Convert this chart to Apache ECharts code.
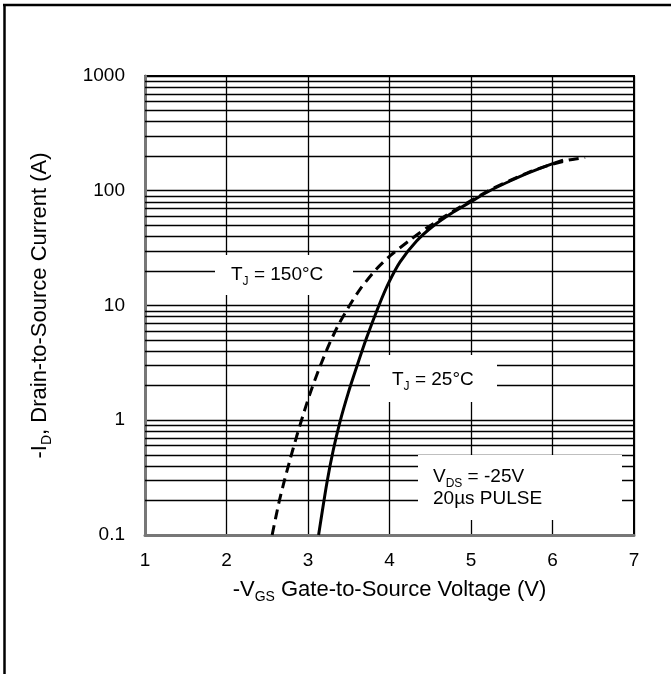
<!DOCTYPE html>
<html>
<head>
<meta charset="utf-8">
<script src="https://cdn.jsdelivr.net/npm/echarts@6/dist/echarts.min.js"></script>
<style>
html,body{margin:0;padding:0;background:#fff;}
#c{width:671px;height:674px;}
</style>
</head>
<body>
<div id="c"></div>
<script>
// T_J = 25°C (solid)
const vgs25 = [3.13, 3.23, 3.31, 3.39, 3.495, 3.60, 3.72, 3.87, 3.985, 4.13, 4.33, 4.54, 4.78, 5.0, 5.23, 5.48, 5.72, 5.97, 6.13];
const id25  = [0.1, 0.28, 0.55, 0.955, 1.74, 2.95, 5.25, 10, 15.5, 24, 36.3, 49.5, 64.9, 80.4, 100, 121.6, 144.5, 169, 185];
// T_J = 150°C (dashed)
const vgs150 = [2.56, 2.64, 2.70, 2.78, 2.86, 2.94, 3.02, 3.13, 3.25, 3.37, 3.495, 3.64, 3.84, 4.01, 4.25, 4.46, 4.78, 4.99, 5.23, 5.48, 5.72, 5.97, 6.2, 6.4];
const id150  = [0.1, 0.187, 0.279, 0.455, 0.721, 1.11, 1.67, 2.73, 4.43, 6.71, 9.6, 13.9, 20.8, 27.2, 37.1, 47.6, 66.4, 81.3, 101.4, 123, 146, 168, 185, 195];
// axis settings
const xMin = 1, xMax = 7, xStep = 1;
const yMin = 0.1, yMax = 1000;
const minorMultipliers = [2, 3, 4, 5, 6, 7, 8, 9];
const decades = [0.1, 1, 10, 100];

const FONT = 'Liberation Sans, Arial, sans-serif';
const minorLines = [];
decades.forEach(d => minorMultipliers.forEach(m => minorLines.push({ yAxis: +(d * m).toPrecision(3) })));

const pair = (xs, ys) => xs.map((x, i) => [x, ys[i]]);

const boxRich = {
  n: { fontSize: 19, fontFamily: FONT, color: '#000', lineHeight: 24 },
  s: { fontSize: 12, fontFamily: FONT, color: '#000', verticalAlign: 'bottom', lineHeight: 13, padding: [0, 0, -1, 0] }
};
const titleRich = {
  n: { fontSize: 22, fontFamily: FONT, color: '#000', lineHeight: 26 },
  s: { fontSize: 14, fontFamily: FONT, color: '#000', verticalAlign: 'bottom', lineHeight: 14, padding: [0, 0, -1, 0] }
};

const chart = echarts.init(document.getElementById('c'), null, { renderer: 'canvas' });
chart.setOption({
  animation: false,
  backgroundColor: '#fff',
  grid: { left: 145, top: 76, right: 37, bottom: 139, show: true, borderColor: '#000', borderWidth: 2, backgroundColor: 'transparent' },
  xAxis: {
    type: 'value', min: xMin, max: xMax, interval: xStep,
    axisLine: { show: true, lineStyle: { color: '#777', width: 3 } },
    axisTick: { show: false },
    splitLine: { show: true, lineStyle: { color: '#000', width: 1.3 } },
    axisLabel: { color: '#000', fontSize: 19, fontFamily: FONT, margin: 16 },
    name: '{n|-V}{s|GS}{n| Gate-to-Source Voltage (V)}',
    nameLocation: 'middle', nameGap: 42,
    nameTextStyle: { rich: titleRich }
  },
  yAxis: {
    type: 'log', logBase: 10, min: yMin, max: yMax,
    axisLine: { show: true, lineStyle: { color: '#777', width: 3 } },
    axisTick: { show: false },
    minorTick: { show: false },
    splitLine: { show: true, lineStyle: { color: '#000', width: 1.3 } },
    axisLabel: { color: '#000', fontSize: 19, fontFamily: FONT, margin: 20,
      formatter: v => String(+v.toPrecision(3)) },
    name: '{n|-I}{s|D}{n|, Drain-to-Source Current (A)}',
    nameLocation: 'middle', nameGap: 92,
    nameTextStyle: { rich: titleRich }
  },
  series: [
    {
      type: 'line', data: [], z: 1, silent: true,
      markLine: {
        silent: true, symbol: 'none', animation: false,
        label: { show: false },
        lineStyle: { color: '#000', width: 1.3, type: 'solid' },
        data: minorLines
      }
    },
    {
      name: 'TJ=150', type: 'line', data: pair(vgs150, id150), z: 5,
      showSymbol: false, smooth: 0.25,
      lineStyle: { color: '#000', width: 3, type: [10, 6] }
    },
    {
      name: 'TJ=25', type: 'line', data: pair(vgs25, id25), z: 6,
      showSymbol: false, smooth: 0.25,
      lineStyle: { color: '#000', width: 3, type: 'solid' }
    }
  ],
  graphic: [
    { type: 'line', shape: { x1: 3, y1: 5, x2: 671, y2: 5 }, style: { stroke: '#000', lineWidth: 2.5 } },
    { type: 'line', shape: { x1: 4.5, y1: 4, x2: 4.5, y2: 674 }, style: { stroke: '#000', lineWidth: 2.5 } },
    { type: 'rect', shape: { x: 215, y: 255, width: 138, height: 40 }, style: { fill: '#fff' }, z: 10 },
    { type: 'text', x: 231, y: 275, z: 11,
      style: { text: '{n|T}{s|J}{n| = 150°C}', rich: boxRich, verticalAlign: 'middle', align: 'left' } },
    { type: 'rect', shape: { x: 370, y: 355, width: 127, height: 47 }, style: { fill: '#fff' }, z: 10 },
    { type: 'text', x: 392, y: 380, z: 11,
      style: { text: '{n|T}{s|J}{n| = 25°C}', rich: boxRich, verticalAlign: 'middle', align: 'left' } },
    { type: 'rect', shape: { x: 418, y: 455, width: 204, height: 65 }, style: { fill: '#fff' }, z: 10 },
    { type: 'text', x: 433, y: 477, z: 11,
      style: { text: '{n|V}{s|DS}{n| = -25V}', rich: boxRich, verticalAlign: 'middle', align: 'left' } },
    { type: 'text', x: 433, y: 499, z: 11,
      style: { text: '20µs PULSE', fill: '#000', font: '19px ' + FONT, verticalAlign: 'middle', align: 'left' } }
  ]
});
</script>
</body>
</html>
